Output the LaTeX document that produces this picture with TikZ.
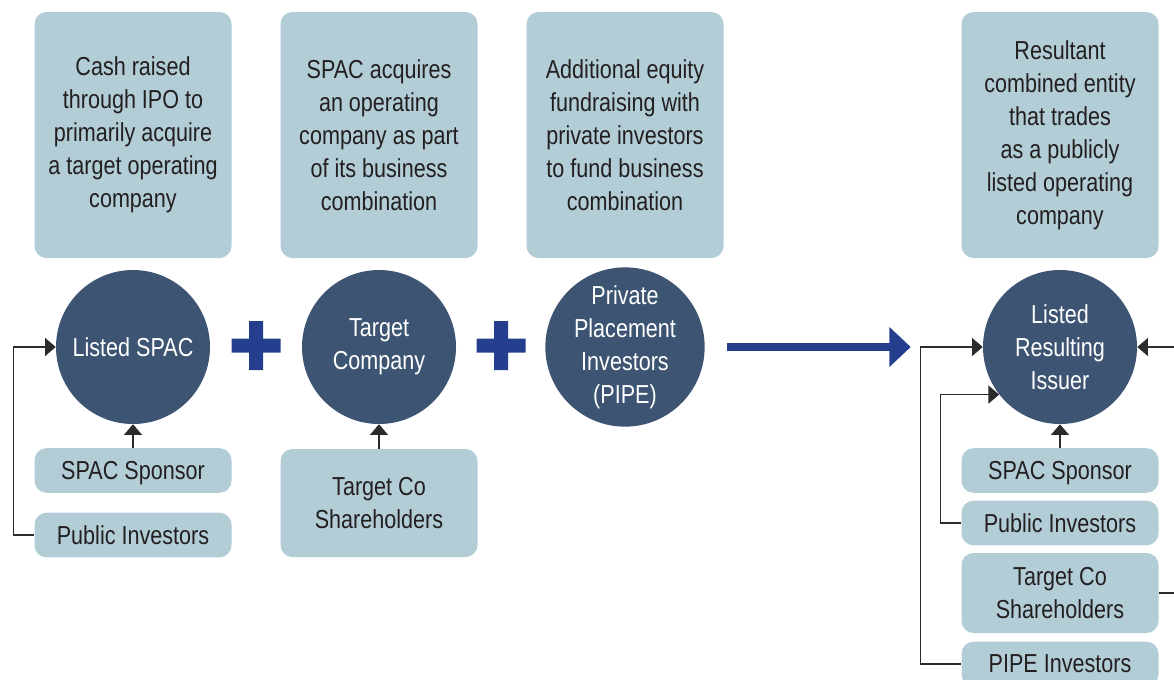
\documentclass[tikz,border=0pt]{standalone}
\usepackage{fontspec}
\setmainfont{Liberation Sans}[FakeStretch=0.83]
\usetikzlibrary{arrows.meta}
\definecolor{boxblue}{HTML}{B2CDD6}
\definecolor{circblue}{HTML}{3D5573}
\definecolor{plusblue}{HTML}{243F8E}
\definecolor{txt}{HTML}{231F20}
\definecolor{wire}{HTML}{2B2B2B}
\begin{document}
\begin{tikzpicture}[x=0.75pt,y=-0.75pt,
    every node/.style={font=\fontsize{19.5}{24.75}\selectfont,align=center},
    info/.style={fill=boxblue,rounded corners=9pt,text=txt,minimum width=147.75pt,inner sep=0pt},
    party/.style={circle,fill=circblue,text=white,minimum size=115.5pt,inner sep=0pt},
    link/.style={draw=wire,line width=1pt,-{Triangle[length=8pt,width=13.5pt]}}]
\useasboundingbox (0,0) rectangle (1174,679);
% what each step does
\node[info,minimum height=184.5pt] (d1) at (133,135) {Cash raised\\through IPO to\\primarily acquire\\a target operating\\company};
\node[info,minimum height=184.5pt] (d2) at (379,135) {SPAC acquires\\an operating\\company as part\\of its business\\combination};
\node[info,minimum height=184.5pt] (d3) at (625,135) {Additional equity\\fundraising with\\private investors\\to fund business\\combination};
\node[info,minimum height=184.5pt] (d4) at (1060,135) {Resultant\\combined entity\\that trades\\as a publicly\\listed operating\\company};
% parties
\node[party] (spac) at (133,347) {Listed SPAC};
\node[party] (tgt) at (379,347) {Target\\Company};
\node[party] (pipe) at (625,347) {Private\\Placement\\Investors\\(PIPE)};
\node[party] (issuer) at (1060,347) {Listed\\Resulting\\Issuer};
% holders
\node[info,minimum height=33.5pt,text depth=0pt] (spon1) at (133,470.5) {SPAC Sponsor};
\node[info,minimum height=33.5pt] (pub1) at (133,535) {Public Investors};
\node[info,minimum height=81pt] (tsh1) at (379,503) {Target Co\\Shareholders};
\node[info,minimum height=33.5pt,text depth=0pt] (spon2) at (1060,470.5) {SPAC Sponsor};
\node[info,minimum height=33.5pt] (pub2) at (1060,523) {Public Investors};
\node[info,minimum height=60pt] (tsh2) at (1060,593) {Target Co\\Shareholders};
\node[info,minimum height=33.5pt] (pipe2) at (1060,664) {PIPE Investors};
% plus signs and the big arrow
\foreach \x in {256,501}
  \fill[plusblue] (\x-24.5,338.5) rectangle (\x+24.5,352.5) (\x-7,321) rectangle (\x+7,370);
\draw[plusblue,line width=6pt,shorten <=16.5pt,shorten >=54pt,
  -{Triangle[length=16pt,width=29pt]}] (pipe) -- (issuer);
% flows into the listed entities
\draw[link] (spon1) -- (spac);
\draw[link] (pub1.west) -- ++(-21,0) |- (spac.west);
\draw[link] (tsh1) -- (tgt);
\draw[link] (spon2) -- (issuer);
\draw[link] (pub2.west) -- ++(-21,0) |- (issuer.218);
\draw[link] (pipe2.west) -- ++(-41,0) |- (issuer.west);
\draw[link] (tsh2.east) -- ++(30,0) |- (issuer.east);
\end{tikzpicture}
\end{document}
